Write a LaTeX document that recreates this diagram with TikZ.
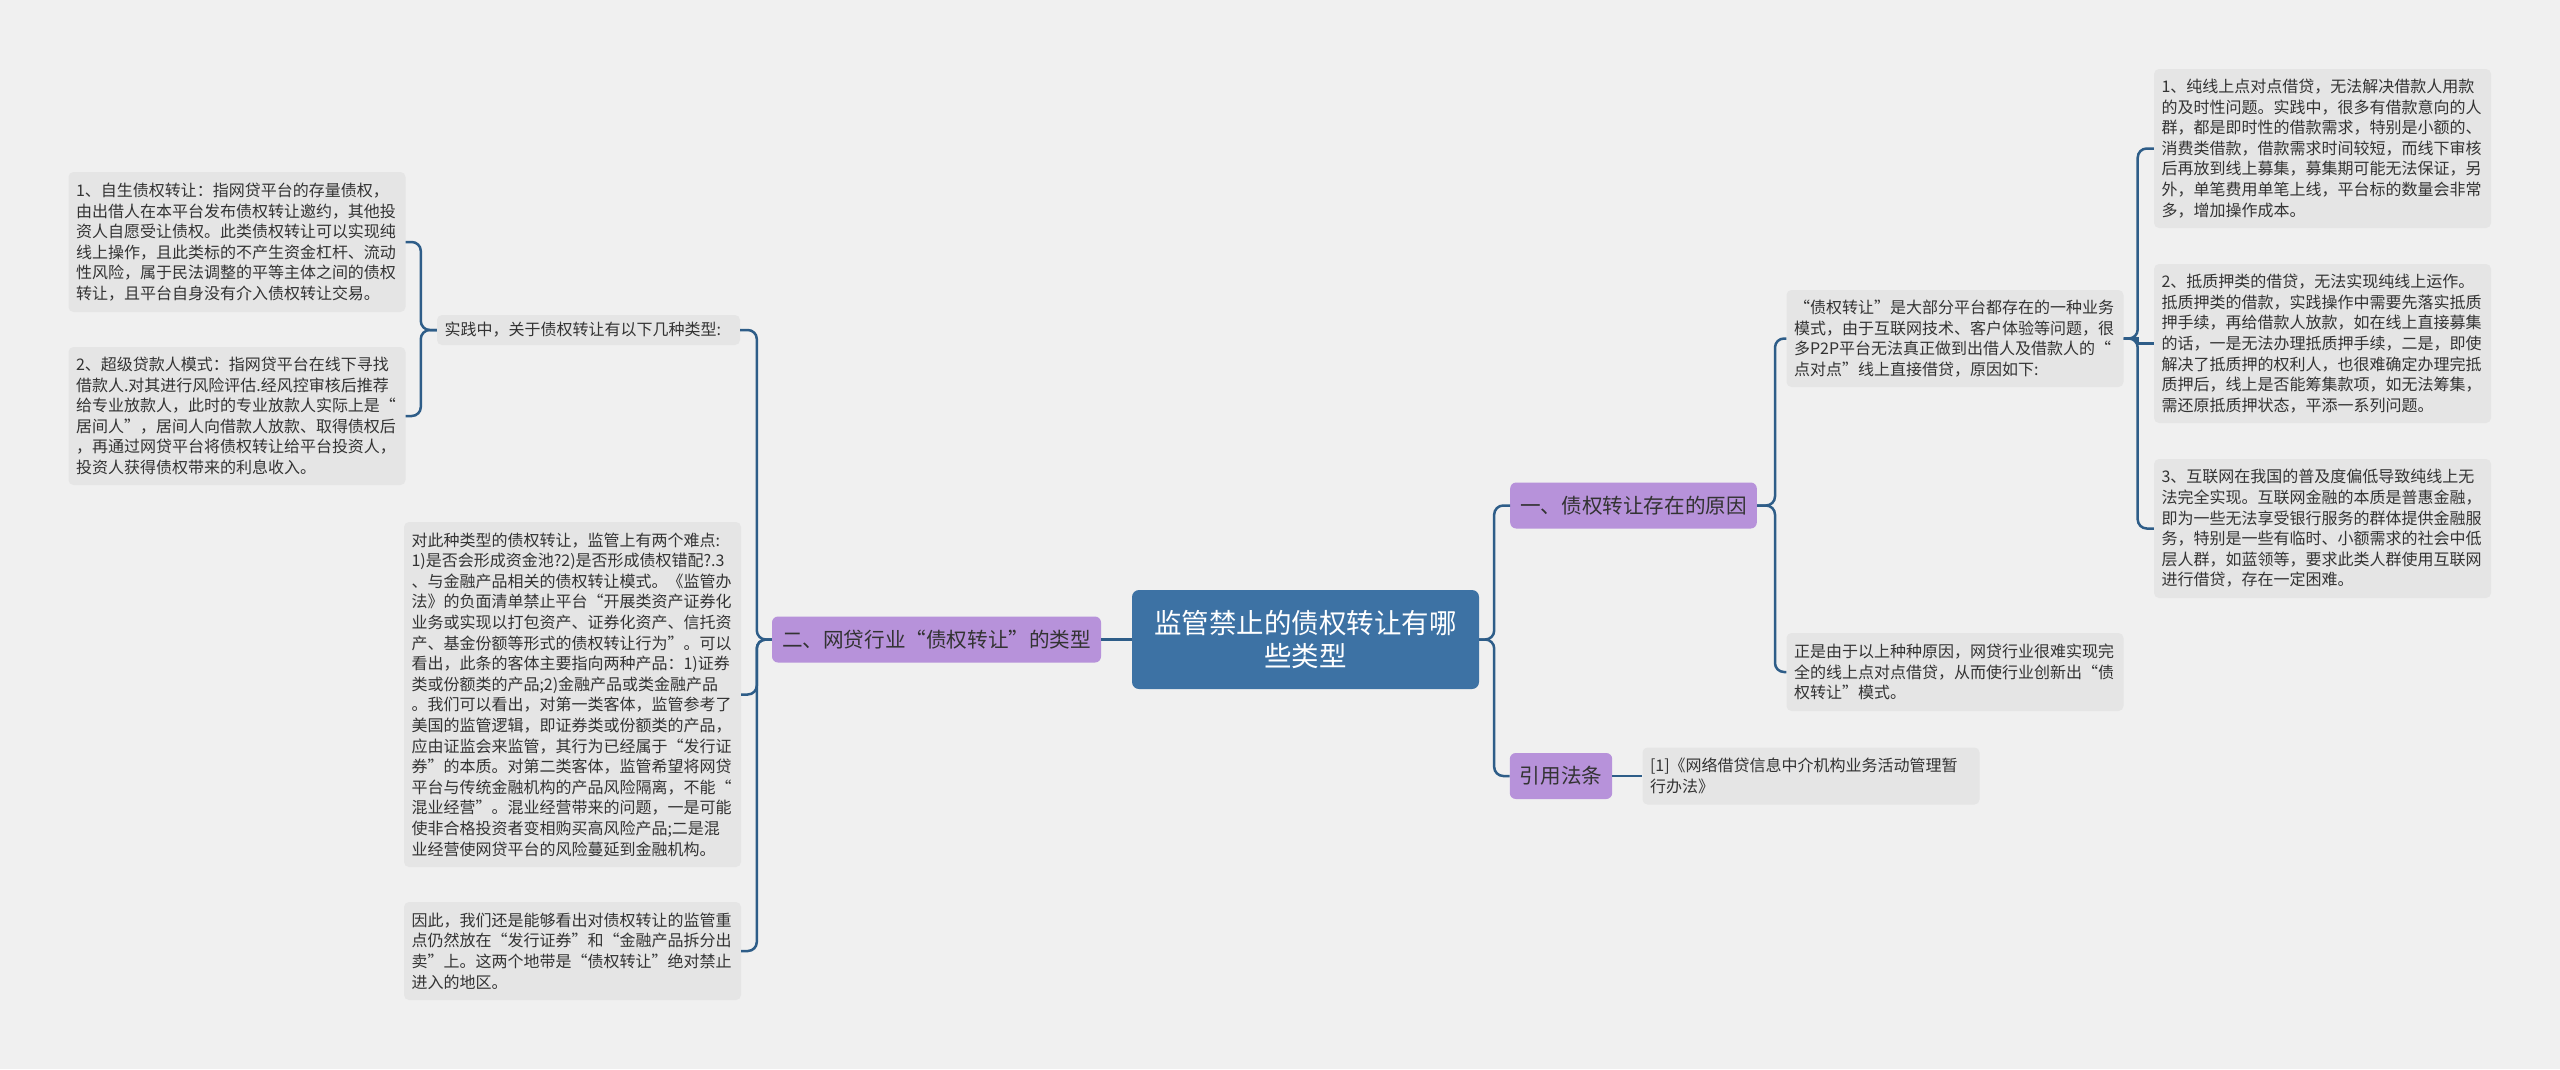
\documentclass[tikz,border=0pt]{standalone}
\usepackage{fontspec}
\setmainfont{Noto Sans CJK SC}
\usepackage{tikz}
\definecolor{bgc}{HTML}{F0F0F0}
\definecolor{leafc}{HTML}{E5E5E5}
\definecolor{linec}{HTML}{2E5D88}
\definecolor{rootc}{HTML}{3D72A4}
\definecolor{topc}{HTML}{B792DA}
\definecolor{txt}{HTML}{333333}
\tikzset{
  leaf/.style={fill=leafc,rounded corners=5pt,text=txt,align=left,
    inner xsep=7.5pt,inner ysep=0pt,text width=322pt,
    font=\fontsize{16}{20.6}\selectfont},
  topic/.style={fill=topc,rounded corners=6pt,text=txt,inner xsep=10pt,
    minimum height=46pt,font=\fontsize{20.6}{24}\selectfont},
  rootbox/.style={fill=rootc,rounded corners=7pt,text=white,align=center,
    minimum width=347pt,minimum height=99pt,
    font=\fontsize{27.5}{33}\selectfont},
  link/.style={draw=linec,line width=2.5pt,rounded corners=9pt}
}

\begin{document}
\begin{tikzpicture}[x=1pt,y=-1pt]
\useasboundingbox[fill=bgc] (0,0) rectangle (2560,1069);

\node[rootbox] (root) at (1305.5,639.5) {监管禁止的债权转让有哪\\些类型};

\node[topic] (why) at (1633.5,505.5) {一、债权转让存在的原因};
\node[topic] (law) at (1561,776) {引用法条};
\node[topic] (kind) at (936.5,639.5) {二、网贷行业“债权转让”的类型};

\node[leaf,minimum height=97pt] (why0) at (1955,338.5) {“债权转让”是大部分平台都存在的一种业务\\模式，由于互联网技术、客户体验等问题，很\\多P2P平台无法真正做到出借人及借款人的“\\点对点”线上直接借贷，原因如下:};
\node[leaf,minimum height=159pt] (whyA) at (2322.5,148.5) {1、纯线上点对点借贷，无法解决借款人用款\\的及时性问题。实践中，很多有借款意向的人\\群，都是即时性的借款需求，特别是小额的、\\消费类借款，借款需求时间较短，而线下审核\\后再放到线上募集，募集期可能无法保证，另\\外，单笔费用单笔上线，平台标的数量会非常\\多，增加操作成本。};
\node[leaf,minimum height=159pt] (whyB) at (2322.5,343.5) {2、抵质押类的借贷，无法实现纯线上运作。\\抵质押类的借款，实践操作中需要先落实抵质\\押手续，再给借款人放款，如在线上直接募集\\的话，一是无法办理抵质押手续，二是，即使\\解决了抵质押的权利人，也很难确定办理完抵\\质押后，线上是否能筹集款项，如无法筹集，\\需还原抵质押状态，平添一系列问题。};
\node[leaf,minimum height=139pt] (whyC) at (2322.5,528.5) {3、互联网在我国的普及度偏低导致纯线上无\\法完全实现。互联网金融的本质是普惠金融，\\即为一些无法享受银行服务的群体提供金融服\\务，特别是一些有临时、小额需求的社会中低\\层人群，如蓝领等，要求此类人群使用互联网\\进行借贷，存在一定困难。};
\node[leaf,minimum height=78pt] (why1) at (1955,672) {正是由于以上种种原因，网贷行业很难实现完\\全的线上点对点借贷，从而使行业创新出“债\\权转让”模式。};
\node[leaf,minimum height=57pt] (law0) at (1811,776) {[1]《网络借贷信息中介机构业务活动管理暂\\行办法》};

\node[leaf,text width=288pt,minimum height=30pt] (prac) at (588.5,330) {实践中，关于债权转让有以下几种类型:};
\node[leaf,minimum height=140pt] (pracA) at (237,242) {1、自生债权转让：指网贷平台的存量债权，\\由出借人在本平台发布债权转让邀约，其他投\\资人自愿受让债权。此类债权转让可以实现纯\\线上操作，且此类标的不产生资金杠杆、流动\\性风险，属于民法调整的平等主体之间的债权\\转让，且平台自身没有介入债权转让交易。};
\node[leaf,minimum height=138pt] (pracB) at (237,416) {2、超级贷款人模式：指网贷平台在线下寻找\\借款人.对其进行风险评估.经风控审核后推荐\\给专业放款人，此时的专业放款人实际上是“\\居间人”，居间人向借款人放款、取得债权后\\，再通过网贷平台将债权转让给平台投资人，\\投资人获得债权带来的利息收入。};
\node[leaf,minimum height=345pt] (rule) at (572.5,694.5) {对此种类型的债权转让，监管上有两个难点:\\1)是否会形成资金池?2)是否形成债权错配?.3\\、与金融产品相关的债权转让模式。《监管办\\法》的负面清单禁止平台“开展类资产证券化\\业务或实现以打包资产、证券化资产、信托资\\产、基金份额等形式的债权转让行为”。可以\\看出，此条的客体主要指向两种产品：1)证券\\类或份额类的产品;2)金融产品或类金融产品\\。我们可以看出，对第一类客体，监管参考了\\美国的监管逻辑，即证券类或份额类的产品，\\应由证监会来监管，其行为已经属于“发行证\\券”的本质。对第二类客体，监管希望将网贷\\平台与传统金融机构的产品风险隔离，不能“\\混业经营”。混业经营带来的问题，一是可能\\使非合格投资者变相购买高风险产品;二是混\\业经营使网贷平台的风险蔓延到金融机构。};
\node[leaf,minimum height=98pt] (sum) at (572.5,951) {因此，我们还是能够看出对债权转让的监管重\\点仍然放在“发行证券”和“金融产品拆分出\\卖”上。这两个地带是“债权转让”绝对禁止\\进入的地区。};

\draw[link] (root.east) -- ++(15,0) |- (why.west);
\draw[link] (root.east) -- ++(15,0) |- (law.west);
\draw[link] (root.west) -- (kind.east);
\draw[link] (why.east) -- ++(18,0) |- (why1.west);
\draw[link] (why.east) -- ++(18,0) |- (why0.west);
\draw[link] (why0.east) -- ++(14,0) |- (whyA.west);
\draw[link,sharp corners] (why0.east) -- ++(14,0) |- (whyB.west);
\draw[link] (why0.east) -- ++(14,0) |- (whyC.west);
\draw[link] (law.east) -- (law0.west);
\draw[link] (kind.west) -- ++(-15,0) |- (prac.east);
\draw[link] (kind.west) -- ++(-15,0) |- (rule.east);
\draw[link] (kind.west) -- ++(-15,0) |- (sum.east);
\draw[link] (prac.west) -- ++(-16,0) |- (pracA.east);
\draw[link] (prac.west) -- ++(-16,0) |- (pracB.east);
\end{tikzpicture}
\end{document}
